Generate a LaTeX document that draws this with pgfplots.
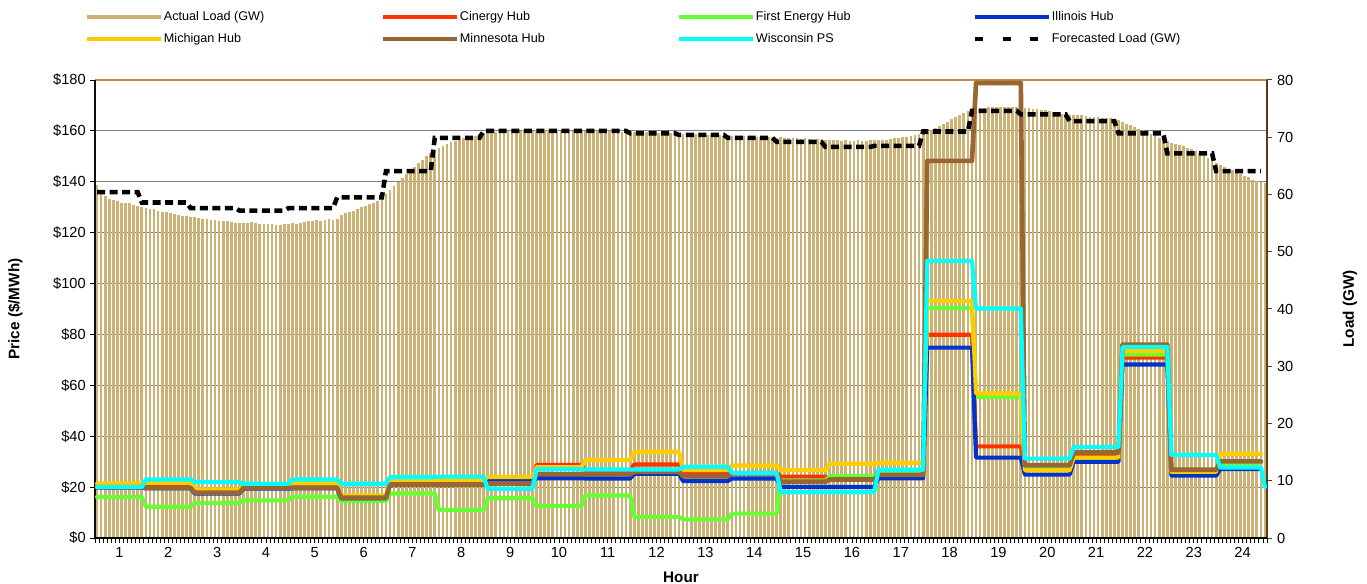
\documentclass[border=0pt]{standalone}
\usepackage{pgfplots}
\pgfplotsset{compat=1.18}
\usepackage{pgfplotstable}
\usepackage{fontspec}
\setmainfont{Liberation Sans}

\definecolor{loadtan}{RGB}{204,178,116}
\definecolor{cinergy}{RGB}{255,51,0}
\definecolor{firstenergy}{RGB}{102,255,51}
\definecolor{illinois}{RGB}{0,51,204}
\definecolor{michigan}{RGB}{255,204,0}
\definecolor{minnesota}{RGB}{153,102,51}
\definecolor{wisconsin}{RGB}{0,255,255}
\definecolor{topline}{RGB}{192,144,64}
\definecolor{rightaxis}{RGB}{90,60,20}

% hourly prices ($/MWh), each hour held from its first to its last 5-min slot
\pgfplotstableread{
x     mich  cin   fe    ill   minn  wis
0.5   21.4  20.5  16.1  19.8  20.0  20.0
11.5  21.4  20.5  16.1  19.8  20.0  20.0
12.5  21.7  20.8  12.3  19.5  19.7  23.0
23.5  21.7  20.8  12.3  19.5  19.7  23.0
24.5  19.1  18.5  13.8  17.5  17.8  22.0
35.5  19.1  18.5  13.8  17.5  17.8  22.0
36.5  20.6  20.0  14.8  19.4  19.8  21.3
47.5  20.6  20.0  14.8  19.4  19.8  21.3
48.5  21.4  20.6  16.2  19.5  19.8  23.0
59.5  21.4  20.6  16.2  19.5  19.8  23.0
60.5  16.7  16.2  14.5  15.6  15.8  21.3
71.5  16.7  16.2  14.5  15.6  15.8  21.3
72.5  22.4  21.6  17.5  21.0  21.0  23.9
83.5  22.4  21.6  17.5  21.0  21.0  23.9
84.5  22.8  22.2  11.0  22.0  21.0  24.1
95.5  22.8  22.2  11.0  22.0  21.0  24.1
96.5  24.0  22.8  15.6  22.4  21.4  19.3
107.5 24.0  22.8  15.6  22.4  21.4  19.3
108.5 27.8  28.7  12.6  23.5  25.0  27.0
119.5 27.8  28.7  12.6  23.5  25.0  27.0
120.5 30.6  26.5  16.7  23.4  25.0  26.9
131.5 30.6  26.5  16.7  23.4  25.0  26.9
132.5 33.9  28.9   8.3  25.2  26.0  26.9
143.5 33.9  28.9   8.3  25.2  26.0  26.9
144.5 26.7  25.2   7.3  22.4  24.3  28.0
155.5 26.7  25.2   7.3  22.4  24.3  28.0
156.5 28.5  25.6   9.6  23.4  25.4  25.6
167.5 28.5  25.6   9.6  23.4  25.4  25.6
168.5 26.7  24.1  22.5  20.1  22.1  18.0
179.5 26.7  24.1  22.5  20.1  22.1  18.0
180.5 29.2  23.8  24.3  20.1  23.0  18.0
191.5 29.2  23.8  24.3  20.1  23.0  18.0
192.5 29.6  26.0  25.5  23.5  24.8  26.8
203.5 29.6  26.0  25.5  23.5  24.8  26.8
204.5 93.2  79.9  90.4  74.8 148.2 108.9
215.5 93.2  79.9  90.4  74.8 148.2 108.9
216.5 56.8  36.0  55.4  31.6 178.8  90.2
227.5 56.8  36.0  55.4  31.6 178.8  90.2
228.5 26.6  27.5  27.5  24.9  28.6  31.2
239.5 26.6  27.5  27.5  24.9  28.6  31.2
240.5 31.6  32.5  31.0  29.9  33.6  35.8
251.5 31.6  32.5  31.0  29.9  33.6  35.8
252.5 73.5  70.9  72.1  68.2  76.0  75.1
263.5 73.5  70.9  72.1  68.2  76.0  75.1
264.5 26.0  25.5  26.2  24.5  26.8  32.6
275.5 26.0  25.5  26.2  24.5  26.8  32.6
276.5 33.1  29.5  29.5  27.1  30.1  27.7
286.5 33.1  29.5  29.5  27.1  30.1  27.7
287.5 nan   nan   nan   nan   nan   20.0
}\prices

% forecasted load (GW), hourly
\pgfplotstableread{
x     fc
0.5   60.4
10.5  60.4
11.5  58.6
22.5  58.6
23.5  57.6
34.5  57.6
35.5  57.2
46.5  57.2
47.5  57.6
58.5  57.6
59.5  59.5
70.5  59.5
71.5  64.1
82.5  64.1
83.5  69.9
94.5  69.9
95.5  71.1
106.5 71.1
107.5 71.1
118.5 71.1
119.5 71.1
130.5 71.1
131.5 70.7
142.5 70.7
143.5 70.4
154.5 70.4
155.5 69.9
166.5 69.9
167.5 69.2
178.5 69.2
179.5 68.3
190.5 68.3
191.5 68.5
202.5 68.5
203.5 71.0
214.5 71.0
215.5 74.6
226.5 74.6
227.5 74.0
238.5 74.0
239.5 72.8
250.5 72.8
251.5 70.7
262.5 70.7
263.5 67.2
274.5 67.2
275.5 64.1
286.5 64.1
}\forecast

\pgfplotsset{
  base/.style={scale only axis, width=879bp, height=343.5bp,
    xmin=0, xmax=288, at={(0,0)}, anchor=south west,
    tick label style={font=\fontsize{11}{13}\selectfont},
    label style={font=\fontsize{11.5}{13}\selectfont\bfseries}},
}

\begin{document}
\begin{tikzpicture}
% grid behind the bars
\begin{axis}[base, ymin=0, ymax=180,
  xtick=\empty, ytick={20,40,...,160}, yticklabels={},
  major tick length=0pt, axis line style={draw=none},
  ymajorgrids, grid style={draw=gray, line width=0.75bp}]
  \addplot[draw=none] coordinates {(0,0)};
\end{axis}

% actual load, 5-minute bars, right axis
\begin{axis}[base, ymin=0, ymax=80,
  axis y line*=right, axis x line*=top, xtick=\empty,
  x axis line style={draw=topline, line width=1.9bp},
  y axis line style={draw=rightaxis, line width=1.4bp},
  ytick={0,10,...,80}, yticklabels={0,10,20,30,40,50,60,70,80},
  ytick style={draw=rightaxis, line width=0.75bp},
  tick align=outside, major tick length=4bp,
  ylabel={Load (GW)},
  ylabel style={at={(axis description cs:1.0708,0.5)}, anchor=center}]
  \addplot[ycomb, draw=loadtan, line width=2.05bp, no markers] coordinates {
  (0.5,61.7) (1.5,60.6) (2.5,59.7) (3.5,59.3) (4.5,59.0) (5.5,58.8) (6.5,58.6) (7.5,58.6) (8.5,58.5) (9.5,58.2) (10.5,58.0) (11.5,57.9)
  (12.5,57.7) (13.5,57.5) (14.5,57.4) (15.5,57.2) (16.5,57.0) (17.5,56.9) (18.5,56.8) (19.5,56.6) (20.5,56.4) (21.5,56.2) (22.5,56.2) (23.5,56.1)
  (24.5,56.0) (25.5,55.9) (26.5,55.8) (27.5,55.7) (28.5,55.6) (29.5,55.5) (30.5,55.4) (31.5,55.4) (32.5,55.3) (33.5,55.2) (34.5,55.1) (35.5,55.1)
  (36.5,55.0) (37.5,55.0) (38.5,55.2) (39.5,55.0) (40.5,54.9) (41.5,54.8) (42.5,54.8) (43.5,54.8) (44.5,54.7) (45.5,54.7) (46.5,54.8) (47.5,54.9)
  (48.5,55.0) (49.5,54.8) (50.5,55.0) (51.5,55.2) (52.5,55.4) (53.5,55.3) (54.5,55.5) (55.5,55.4) (56.5,55.6) (57.5,55.7) (58.5,55.6) (59.5,55.8)
  (60.5,56.4) (61.5,56.7) (62.5,57.0) (63.5,57.2) (64.5,57.5) (65.5,57.8) (66.5,58.0) (67.5,58.3) (68.5,58.5) (69.5,58.9) (70.5,59.3) (71.5,60.0)
  (72.5,60.8) (73.5,61.5) (74.5,62.2) (75.5,62.9) (76.5,63.5) (77.5,64.2) (78.5,64.8) (79.5,65.5) (80.5,66.1) (81.5,66.7) (82.5,67.2) (83.5,67.7)
  (84.5,68.1) (85.5,68.5) (86.5,68.9) (87.5,69.2) (88.5,69.4) (89.5,69.6) (90.5,69.8) (91.5,70.0) (92.5,70.2) (93.5,70.3) (94.5,70.5) (95.5,70.6)
  (96.5,70.7) (97.5,70.8) (98.5,70.9) (99.5,71.0) (100.5,71.0) (101.5,71.1) (102.5,71.1) (103.5,71.2) (104.5,71.1) (105.5,71.2) (106.5,71.2) (107.5,71.1)
  (108.5,71.2) (109.5,71.1) (110.5,71.2) (111.5,71.2) (112.5,71.1) (113.5,71.2) (114.5,71.1) (115.5,71.2) (116.5,71.2) (117.5,71.1) (118.5,71.2) (119.5,71.1)
  (120.5,71.1) (121.5,71.2) (122.5,71.1) (123.5,71.1) (124.5,71.0) (125.5,71.1) (126.5,71.1) (127.5,71.0) (128.5,71.1) (129.5,71.0) (130.5,71.0) (131.5,71.0)
  (132.5,70.9) (133.5,71.0) (134.5,70.9) (135.5,70.9) (136.5,70.8) (137.5,70.9) (138.5,70.8) (139.5,70.8) (140.5,70.7) (141.5,70.8) (142.5,70.7) (143.5,70.7)
  (144.5,70.6) (145.5,70.7) (146.5,70.6) (147.5,70.5) (148.5,70.6) (149.5,70.5) (150.5,70.4) (151.5,70.5) (152.5,70.4) (153.5,70.4) (154.5,70.3) (155.5,70.4)
  (156.5,70.3) (157.5,70.2) (158.5,70.3) (159.5,70.2) (160.5,70.1) (161.5,70.2) (162.5,70.1) (163.5,70.0) (164.5,70.1) (165.5,70.0) (166.5,70.0) (167.5,69.9)
  (168.5,70.0) (169.5,69.9) (170.5,69.8) (171.5,69.9) (172.5,69.8) (173.5,69.7) (174.5,69.8) (175.5,69.7) (176.5,69.6) (177.5,69.7) (178.5,69.6) (179.5,69.6)
  (180.5,69.5) (181.5,69.6) (182.5,69.5) (183.5,69.4) (184.5,69.5) (185.5,69.4) (186.5,69.4) (187.5,69.5) (188.5,69.4) (189.5,69.4) (190.5,69.5) (191.5,69.5)
  (192.5,69.5) (193.5,69.6) (194.5,69.6) (195.5,69.7) (196.5,69.8) (197.5,69.9) (198.5,70.0) (199.5,70.1) (200.5,70.3) (201.5,70.4) (202.5,70.6) (203.5,70.8)
  (204.5,71.0) (205.5,71.3) (206.5,71.6) (207.5,71.9) (208.5,72.3) (209.5,72.7) (210.5,73.1) (211.5,73.5) (212.5,73.9) (213.5,74.3) (214.5,74.6) (215.5,74.8)
  (216.5,75.0) (217.5,75.1) (218.5,75.1) (219.5,75.2) (220.5,75.3) (221.5,75.3) (222.5,75.3) (223.5,75.2) (224.5,75.3) (225.5,75.2) (226.5,75.2) (227.5,75.1)
  (228.5,75.1) (229.5,75.1) (230.5,75.0) (231.5,74.9) (232.5,74.8) (233.5,74.7) (234.5,74.5) (235.5,74.4) (236.5,74.3) (237.5,74.1) (238.5,74.0) (239.5,73.9)
  (240.5,73.9) (241.5,73.8) (242.5,73.8) (243.5,73.7) (244.5,73.6) (245.5,73.6) (246.5,73.5) (247.5,73.4) (248.5,73.4) (249.5,73.3) (250.5,73.2) (251.5,73.0)
  (252.5,72.7) (253.5,72.4) (254.5,72.1) (255.5,71.8) (256.5,71.5) (257.5,71.2) (258.5,70.9) (259.5,70.6) (260.5,70.2) (261.5,69.9) (262.5,69.6) (263.5,69.3)
  (264.5,69.0) (265.5,68.8) (266.5,68.6) (267.5,68.4) (268.5,68.2) (269.5,67.9) (270.5,67.6) (271.5,67.2) (272.5,66.8) (273.5,66.3) (274.5,65.9) (275.5,65.5)
  (276.5,65.1) (277.5,64.8) (278.5,64.5) (279.5,64.2) (280.5,63.9) (281.5,63.6) (282.5,63.3) (283.5,63.0) (284.5,62.6) (285.5,62.3) (286.5,62.1) (287.5,62.0)
  };
\end{axis}

% hub prices, left axis
\begin{axis}[base, ymin=0, ymax=180,
  axis x line*=bottom, axis y line*=left,
  axis line style={line width=1.2bp},
  x axis line style={draw=black},
  y axis line style={draw=black!80!rightaxis},
  xtick={6,18,...,282}, xticklabels={1,...,24},
  minor xtick={0,1,...,288},
  ytick={0,20,...,180},
  yticklabels={\$0,\$20,\$40,\$60,\$80,\$100,\$120,\$140,\$160,\$180},
  tick align=outside, major tick length=3.5bp, minor tick length=3.5bp,
  tick style={draw=black, line width=0.6bp},
  xlabel={Hour}, ylabel={Price (\$/MWh)},
  xlabel style={at={(axis description cs:0.5,-0.085)}, anchor=center},
  ylabel style={at={(axis description cs:-0.068,0.5)}, anchor=center},
  every axis plot/.append style={line width=3.1bp, line join=round, line cap=round, no markers}]
  \addplot[cinergy]     table[x=x, y=cin]  {\prices};
  \addplot[firstenergy] table[x=x, y=fe]   {\prices};
  \addplot[illinois]    table[x=x, y=ill]  {\prices};
  \addplot[michigan]    table[x=x, y=mich] {\prices};
  \addplot[minnesota, line width=3.5bp] table[x=x, y=minn] {\prices};
  \addplot[wisconsin]   table[x=x, y=wis]  {\prices};
\end{axis}

% forecasted load on top, plus the legend
\begin{axis}[base, ymin=0, ymax=80, hide axis,
  legend columns=4,
  legend cell align=left,
  legend image code/.code={\draw[line width=3bp,#1] (0bp,0bp) -- (55bp,0bp);},
  legend style={at={(axis description cs:-0.0085,1.1565)}, anchor=north west,
    draw=none, fill=none, inner sep=0pt, row sep=4bp,
    font=\fontsize{9.5}{10.5}\selectfont,
    nodes={inner xsep=1bp},
    /tikz/every odd column/.append style={column sep=0bp}}]
  \addlegendimage{loadtan, line width=5.5bp}
  \addlegendimage{cinergy}
  \addlegendimage{firstenergy}
  \addlegendimage{illinois}
  \addlegendimage{michigan}
  \addlegendimage{minnesota}
  \addlegendimage{wisconsin}
  \addlegendimage{black, dash pattern=on 6bp off 14.6bp}
  \addplot[black, line width=3.4bp, dash pattern=on 6bp off 3.4bp, no markers, forget plot]
    table[x=x, y=fc] {\forecast};
  \legend{\makebox[162bp][l]{Actual Load (GW)}, \makebox[162bp][l]{Cinergy Hub},
    \makebox[162bp][l]{First Energy Hub}, \makebox[162bp][l]{Illinois Hub},
    \makebox[162bp][l]{Michigan Hub}, \makebox[162bp][l]{Minnesota Hub},
    \makebox[162bp][l]{Wisconsin PS}, \makebox[162bp][l]{Forecasted Load (GW)}}
\end{axis}

\pgfresetboundingbox
\path[use as bounding box] (-71.25bp,-34.5bp) rectangle (954bp,403.5bp);
\end{tikzpicture}
\end{document}
